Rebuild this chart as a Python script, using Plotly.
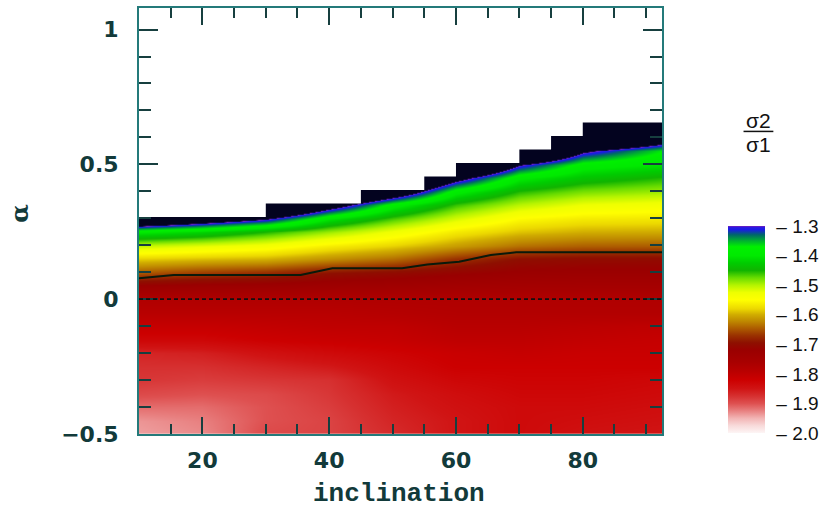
import plotly.graph_objects as go

# ---------------- data ----------------
inclination = [10, 20, 30, 40, 50, 60, 70, 80, 92.5]          # grid columns
alpha = [-0.50, -0.45, -0.40, -0.35, -0.30, -0.25, -0.20, -0.15, -0.10, -0.05,
         0.00, 0.05, 0.10, 0.15, 0.20, 0.25, 0.30, 0.35, 0.40, 0.45,
         0.50, 0.55, 0.60, 0.65, 0.70]                           # grid rows

# sigma2/sigma1 (colour-bar values), one row per alpha, columns = inclination
ratio = [
    [-1.940, -1.930, -1.895, -1.890, -1.870, -1.850, -1.835, -1.845, -1.850],  # -0.50
    [-1.935, -1.925, -1.900, -1.890, -1.865, -1.850, -1.835, -1.840, -1.845],  # -0.45
    [-1.915, -1.915, -1.900, -1.885, -1.860, -1.845, -1.835, -1.835, -1.840],  # -0.40
    [-1.895, -1.900, -1.895, -1.880, -1.855, -1.840, -1.830, -1.830, -1.835],  # -0.35
    [-1.880, -1.885, -1.880, -1.875, -1.845, -1.830, -1.825, -1.825, -1.830],  # -0.30
    [-1.875, -1.875, -1.865, -1.855, -1.835, -1.820, -1.820, -1.820, -1.820],  # -0.25
    [-1.865, -1.860, -1.845, -1.835, -1.825, -1.815, -1.810, -1.815, -1.815],  # -0.20
    [-1.830, -1.830, -1.820, -1.815, -1.810, -1.800, -1.800, -1.805, -1.810],  # -0.15
    [-1.810, -1.810, -1.805, -1.800, -1.800, -1.790, -1.790, -1.795, -1.800],  # -0.10
    [-1.790, -1.790, -1.790, -1.790, -1.785, -1.780, -1.780, -1.780, -1.780],  # -0.05
    [-1.775, -1.775, -1.775, -1.775, -1.775, -1.775, -1.775, -1.775, -1.775],  #  0.00
    [-1.722, -1.727, -1.729, -1.735, -1.739, -1.745, -1.749, -1.750, -1.751],  #  0.05
    [-1.649, -1.664, -1.674, -1.694, -1.703, -1.714, -1.723, -1.726, -1.726],  #  0.10
    [-1.583, -1.591, -1.597, -1.617, -1.636, -1.671, -1.696, -1.701, -1.702],  #  0.15
    [-1.506, -1.520, -1.535, -1.562, -1.582, -1.609, -1.634, -1.644, -1.646],  #  0.20
    [-1.395, -1.416, -1.452, -1.491, -1.529, -1.566, -1.589, -1.599, -1.601],  #  0.25
    [-1.179, -1.240, -1.294, -1.403, -1.465, -1.514, -1.553, -1.566, -1.569],  #  0.30
    [-1.100, -1.100, -1.100, -1.252, -1.385, -1.460, -1.502, -1.526, -1.534],  #  0.35
    [-1.100, -1.100, -1.100, -1.100, -1.228, -1.390, -1.455, -1.481, -1.493],  #  0.40
    [-1.100, -1.100, -1.100, -1.100, -1.100, -1.268, -1.394, -1.432, -1.454],  #  0.45
    [-1.100, -1.100, -1.100, -1.100, -1.100, -1.100, -1.294, -1.385, -1.405],  #  0.50
    [-1.100, -1.100, -1.100, -1.100, -1.100, -1.100, -1.100, -1.286, -1.368],  #  0.55
    [-1.100, -1.100, -1.100, -1.100, -1.100, -1.100, -1.100, -1.100, -1.232],  #  0.60
    [-1.100, -1.100, -1.100, -1.100, -1.100, -1.100, -1.100, -1.100, -1.100],  #  0.65
    [-1.100, -1.100, -1.100, -1.100, -1.100, -1.100, -1.100, -1.100, -1.100],  #  0.70
]

# upper edge of the computed region (stepped)
step_x = [10, 30, 45, 55, 60, 70, 75, 80, 92.5]
step_top = [0.305, 0.355, 0.405, 0.455, 0.505, 0.555, 0.605, 0.655]

# black contour line
contour_x = [10, 15.5, 35.5, 40.5, 51.5, 55.5, 60.5, 65.5, 69.5, 92.5]
contour_alpha = [0.078, 0.090, 0.090, 0.115, 0.115, 0.129, 0.139, 0.164, 0.174, 0.174]

zero_alpha = 0.0

# colour scale (value -> colour)
cs_z = [-2.000, -1.975, -1.950, -1.925, -1.900, -1.875, -1.850, -1.820, -1.790,
        -1.760, -1.720, -1.695, -1.670, -1.645, -1.620, -1.600, -1.580, -1.550,
        -1.525, -1.500, -1.475, -1.450, -1.425, -1.400, -1.370, -1.350, -1.330,
        -1.312, -1.305, -1.300]
cs_colors = ["#fdf5f5", "#f8dada", "#f2b4b4", "#e88080", "#de5050", "#d63030",
             "#d01414", "#cc0000", "#b80000", "#a80000", "#9a0000", "#8e1000",
             "#9a3200", "#ae5e00", "#c08c00", "#d0ac00", "#ecd800", "#ffff00",
             "#eeff00", "#b4f400", "#68dc00", "#10b400", "#00cc00", "#00ea00",
             "#00f000", "#00b030", "#006868", "#1a1ae6", "#2a1ae0", "#7a20b8"]
above_color = "#03031f"
cbar_ticks = [-1.3, -1.4, -1.5, -1.6, -1.7, -1.8, -1.9, -2.0]

# ---------------- figure ----------------
zmin, zmax_bar, zmax_main = cs_z[0], cs_z[-1], -1.1
scale_main = [[(z - zmin) / (zmax_main - zmin), c] for z, c in zip(cs_z, cs_colors)]
scale_main += [[(-1.297 - zmin) / (zmax_main - zmin), above_color], [1.0, above_color]]
scale_bar = [[(z - zmin) / (zmax_bar - zmin), c] for z, c in zip(cs_z, cs_colors)]

fig = go.Figure()
fig.add_trace(go.Heatmap(x=inclination, y=alpha, z=ratio, zmin=zmin, zmax=zmax_main,
                         colorscale=scale_main, zsmooth="best", showscale=False,
                         hoverinfo="skip"))

# colour bar (carrier trace outside the visible range)
fig.add_trace(go.Heatmap(x=[500, 501], y=[0], z=[[zmin, zmax_bar]], zmin=zmin, zmax=zmax_bar,
                         colorscale=scale_bar, hoverinfo="skip",
                         colorbar=dict(x=(731 - 139) / 526, xanchor="left", xpad=0,
                                       y=(434 - 433) / 428, yanchor="bottom", ypad=0,
                                       thickness=37, lenmode="pixels", len=207,
                                       outlinewidth=0, tickvals=cbar_ticks,
                                       ticktext=["\u2013 %.1f" % abs(v) for v in cbar_ticks],
                                       ticks="outside", ticklen=8, tickcolor="rgba(0,0,0,0)",
                                       tickfont=dict(family="Liberation Sans", size=19, color="#111111"))))

# white area above the stepped edge
px_, py_ = [], []
for i, t in enumerate(step_top):
    px_ += [step_x[i], step_x[i + 1]]
    py_ += [t, t]
px_[0] -= 1
px_[-1] += 1
px_ += [px_[-1], px_[0]]
py_ += [1.2, 1.2]
fig.add_trace(go.Scatter(x=px_, y=py_, mode="lines", fill="toself", fillcolor="white",
                         line=dict(width=0, color="white"), hoverinfo="skip", showlegend=False))

fig.add_trace(go.Scatter(x=contour_x, y=contour_alpha, mode="lines",
                         line=dict(color="#0a1a0a", width=2), hoverinfo="skip", showlegend=False))

fig.add_shape(type="line", xref="paper", x0=0, x1=1, yref="y", y0=zero_alpha, y1=zero_alpha,
              line=dict(color="#111111", width=1.7, dash="4px,3px"))

frame_col = "#247a7a"
tick_col = "#173f3f"
label_font = dict(family="DejaVu Sans", size=22, color="#123a3a", weight="bold")

fig.update_xaxes(range=[10, 92.5], tick0=0, dtick=20, ticks="inside", ticklen=17, tickwidth=1.5,
                 tickcolor=tick_col, showline=True, linecolor=frame_col, linewidth=2, mirror="ticks",
                 showgrid=False, zeroline=False, tickfont=label_font, ticklabelstandoff=6,
                 minor=dict(dtick=5, ticks="inside", ticklen=10, tickwidth=1.5, tickcolor=tick_col,
                            showgrid=False))
fig.update_yaxes(range=[-0.5, 1.08], tick0=0, dtick=0.5, ticks="inside", ticklen=19, tickwidth=1.5,
                 tickcolor=tick_col, showline=True, linecolor=frame_col, linewidth=2, mirror="ticks",
                 showgrid=False, zeroline=False, tickfont=label_font, ticklabelstandoff=14,
                 minor=dict(dtick=0.1, ticks="inside", ticklen=12, tickwidth=1.5, tickcolor=tick_col,
                            showgrid=False))

fig.add_annotation(text="inclination", xref="paper", yref="paper", x=(400 - 139) / 526,
                   y=(434 - 494) / 428, xanchor="center", yanchor="middle", showarrow=False,
                   font=dict(family="Liberation Mono", size=26, color="#123a3a", weight="bold"))
fig.add_annotation(text="α", xref="paper", yref="paper", x=(18 - 139) / 526,
                   y=(434 - 213) / 428, xanchor="center", yanchor="middle", showarrow=False,
                   textangle=-90,
                   font=dict(family="DejaVu Serif", size=24, color="#123a3a", weight="bold"))

# colour-bar title sigma2 / sigma1
fig.add_annotation(text="σ2", xref="paper", yref="paper", x=(762 - 139) / 526, y=(434 - 119) / 428,
                   xanchor="center", yanchor="middle", showarrow=False,
                   font=dict(family="Liberation Sans", size=21, color="#111111"))
fig.add_annotation(text="σ1", xref="paper", yref="paper", x=(762 - 139) / 526, y=(434 - 143) / 428,
                   xanchor="center", yanchor="middle", showarrow=False,
                   font=dict(family="Liberation Sans", size=21, color="#111111"))
fig.add_shape(type="line", xref="paper", yref="paper", x0=(747 - 139) / 526, x1=(777 - 139) / 526,
              y0=(434 - 130) / 428, y1=(434 - 130) / 428, line=dict(color="#111111", width=1.5))

fig.update_layout(width=825, height=508, autosize=False,
                  margin=dict(l=139, r=160, t=6, b=74),
                  paper_bgcolor="white", plot_bgcolor="white", showlegend=False)

fig.write_html("out.html", config={"displayModeBar": False},
               post_script="document.body.style.margin='0px';document.body.style.padding='0px';")
